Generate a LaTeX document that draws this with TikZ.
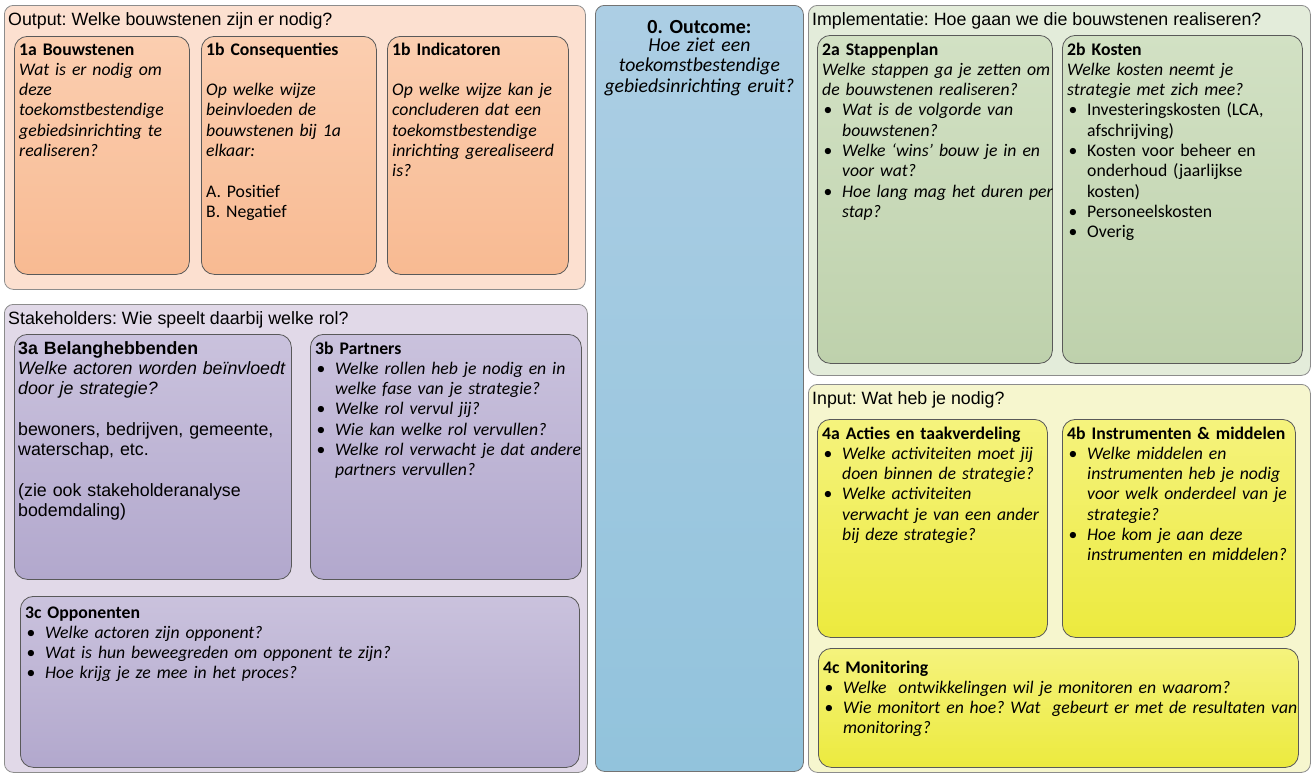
\documentclass[tikz,border=0pt]{standalone}
\usepackage{fontspec}
\setmainfont{Carlito}
\newfontfamily\arialfont{Liberation Sans}
\frenchspacing
\newcommand{\cardfont}{\fontsize{17.7}{20.3}\selectfont}
\newcommand{\headfont}{\arialfont\fontsize{17.8}{20.3}\selectfont}
\newcommand{\itm}[1]{\par{\leftskip=20pt\noindent\llap{\makebox[20pt][l]{\hspace{1.5pt}\upshape\textbullet}}#1\par}}
\definecolor{peachbg}{RGB}{252,224,208}
\definecolor{peachtop}{RGB}{251,206,176}
\definecolor{peachbot}{RGB}{248,186,146}
\definecolor{bluetop}{RGB}{172,206,228}
\definecolor{bluebot}{RGB}{146,195,220}
\definecolor{greenbg}{RGB}{227,236,218}
\definecolor{greentop}{RGB}{210,225,196}
\definecolor{greenbot}{RGB}{190,209,172}
\definecolor{lilacbg}{RGB}{225,217,232}
\definecolor{lilactop}{RGB}{202,194,221}
\definecolor{lilacbot}{RGB}{178,168,205}
\definecolor{yellowbg}{RGB}{246,246,206}
\definecolor{yellowtop}{RGB}{245,243,125}
\definecolor{yellowbot}{RGB}{236,234,62}
\begin{document}
\begin{tikzpicture}[x=1pt,y=-1pt,
  outer/.style={draw=black!45, line width=0.8pt, rounded corners=9pt, anchor=north west, inner sep=0pt},
  card/.style={draw=black!65, line width=0.8pt, rounded corners=13pt, anchor=north west, inner sep=0pt},
  txt/.style={anchor=base west, inner sep=0pt, text width=500pt, align=left, font=\cardfont},
  head/.style={anchor=base west, inner sep=0pt, font=\headfont}]
\fill[white] (0,0) rectangle (1311,774);
\useasboundingbox (0,0) rectangle (1311,774);

\node[outer, fill=peachbg, minimum width=581, minimum height=284] (out) at (4,5) {};
\node[head] (out_t) at ([shift={(4,20)}]out.north west) {Output: Welke bouwstenen zijn er nodig?};
\node[card, top color=peachtop, bottom color=peachbot, minimum width=175, minimum height=238] (b_1a) at (14,36) {};
\node[card, top color=peachtop, bottom color=peachbot, minimum width=175, minimum height=238] (b_1b) at (201,36) {};
\node[card, top color=peachtop, bottom color=peachbot, minimum width=181, minimum height=238] (b_1c) at (387,36) {};
\node[txt] (t_1a) at ([shift={(5,19)}]b_1a.north west) {\textbf{1a Bouwstenen}\\ {\itshape Wat is er nodig om\\ deze\\ toekomstbestendige\\ gebiedsinrichting te\\ realiseren?}};
\node[txt] (t_1b) at ([shift={(5,19)}]b_1b.north west) {\textbf{1b Consequenties}\\ \mbox{}\\ {\itshape Op welke wijze\\ beinvloeden de\\ bouwstenen bij 1a\\ elkaar:}\\ \mbox{}\\ A. Positief\\ B. Negatief};
\node[txt] (t_1c) at ([shift={(5,19)}]b_1c.north west) {\textbf{1b Indicatoren}\\ \mbox{}\\ {\itshape Op welke wijze kan je\\ concluderen dat een\\ toekomstbestendige\\ inrichting gerealiseerd\\ is?}};

\node[outer, draw=black!55, top color=bluetop, bottom color=bluebot, minimum width=208, minimum height=766] (b_0) at (595,5) {};
\node[anchor=base, inner sep=0pt, text width=204pt, align=center, font=\fontsize{19.7}{20.3}\selectfont] (t_0) at ([shift={(0,28)}]b_0.north) {{\bfseries\fontsize{20}{20}\selectfont 0. Outcome:}\\[-1.8pt] {\itshape Hoe ziet een\\ toekomstbestendige\\ gebiedsinrichting eruit?}};

\node[outer, fill=greenbg, minimum width=502, minimum height=370] (impl) at (808,5) {};
\node[head] (impl_t) at ([shift={(4,20)}]impl.north west) {Implementatie: Hoe gaan we die bouwstenen realiseren?};
\node[card, top color=greentop, bottom color=greenbot, minimum width=235, minimum height=328] (b_2a) at (817,35) {};
\node[card, top color=greentop, bottom color=greenbot, minimum width=240, minimum height=328] (b_2b) at (1062,35) {};
\node[txt] (t_2a) at ([shift={(5,20)}]b_2a.north west) {\textbf{2a Stappenplan}\\ {\itshape Welke stappen ga je zetten om\\ de bouwstenen realiseren?}\itshape\itm{Wat is de volgorde van\\ bouwstenen?}\itm{Welke ‘wins’ bouw je in en\\ voor wat?}\itm{Hoe lang mag het duren per\\ stap?}};
\node[txt] (t_2b) at ([shift={(5,20)}]b_2b.north west) {\textbf{2b Kosten}\\ {\itshape Welke kosten neemt je\\ strategie met zich mee?}\itm{Investeringskosten (LCA,\\ afschrijving)}\itm{Kosten voor beheer en\\ onderhoud (jaarlijkse\\ kosten)}\itm{Personeelskosten}\itm{Overig}};

\node[outer, fill=lilacbg, minimum width=583, minimum height=468] (stake) at (4,304) {};
\node[head] (stake_t) at ([shift={(4,20)}]stake.north west) {Stakeholders: Wie speelt daarbij welke rol?};
\node[card, top color=lilactop, bottom color=lilacbot, minimum width=277, minimum height=245] (b_3a) at (14,334) {};
\node[card, top color=lilactop, bottom color=lilacbot, minimum width=271, minimum height=245] (b_3b) at (310,334) {};
\node[card, top color=lilactop, bottom color=lilacbot, minimum width=559, minimum height=171] (b_3c) at (20,596) {};
\node[txt, font=\headfont] (t_3a) at ([shift={(4,20)}]b_3a.north west) {\textbf{3a Belanghebbenden}\\ {\itshape Welke actoren worden beïnvloedt\\ door je strategie?}\\ \mbox{}\\ bewoners, bedrijven, gemeente,\\ waterschap, etc.\\ \mbox{}\\ (zie ook stakeholderanalyse\\ bodemdaling)};
\node[txt] (t_3b) at ([shift={(5,20)}]b_3b.north west) {\textbf{3b Partners}\itshape\itm{Welke rollen heb je nodig en in\\ welke fase van je strategie?}\itm{Welke rol vervul jij?}\itm{Wie kan welke rol vervullen?}\itm{Welke rol verwacht je dat andere\\ partners vervullen?}};
\node[txt] (t_3c) at ([shift={(5,22)}]b_3c.north west) {\textbf{3c Opponenten}\itshape\itm{Welke actoren zijn opponent?}\itm{Wat is hun beweegreden om opponent te zijn?}\itm{Hoe krijg je ze mee in het proces?}};

\node[outer, fill=yellowbg, minimum width=502, minimum height=388] (input) at (808,384) {};
\node[head] (input_t) at ([shift={(4,20)}]input.north west) {Input: Wat heb je nodig?};
\node[card, top color=yellowtop, bottom color=yellowbot, minimum width=230, minimum height=218] (b_4a) at (817,419) {};
\node[card, top color=yellowtop, bottom color=yellowbot, minimum width=233, minimum height=218] (b_4b) at (1062,419) {};
\node[card, top color=yellowtop, bottom color=yellowbot, minimum width=480, minimum height=119] (b_4c) at (818,648) {};
\node[txt] (t_4a) at ([shift={(5,20)}]b_4a.north west) {\textbf{4a Acties en taakverdeling}\itshape\itm{Welke activiteiten moet jij\\ doen binnen de strategie?}\itm{Welke activiteiten\\ verwacht je van een ander\\ bij deze strategie?}};
\node[txt] (t_4b) at ([shift={(5,20)}]b_4b.north west) {\textbf{4b Instrumenten \& middelen}\itshape\itm{Welke middelen en\\ instrumenten heb je nodig\\ voor welk onderdeel van je\\ strategie?}\itm{Hoe kom je aan deze\\ instrumenten en middelen?}};
\node[txt] (t_4c) at ([shift={(5,25)}]b_4c.north west) {\textbf{4c Monitoring}\itshape\itm{Welke~ ontwikkelingen wil je monitoren en waarom?}\itm{Wie monitort en hoe? Wat~ gebeurt er met de resultaten van\\ monitoring?}};
\end{tikzpicture}
\end{document}
